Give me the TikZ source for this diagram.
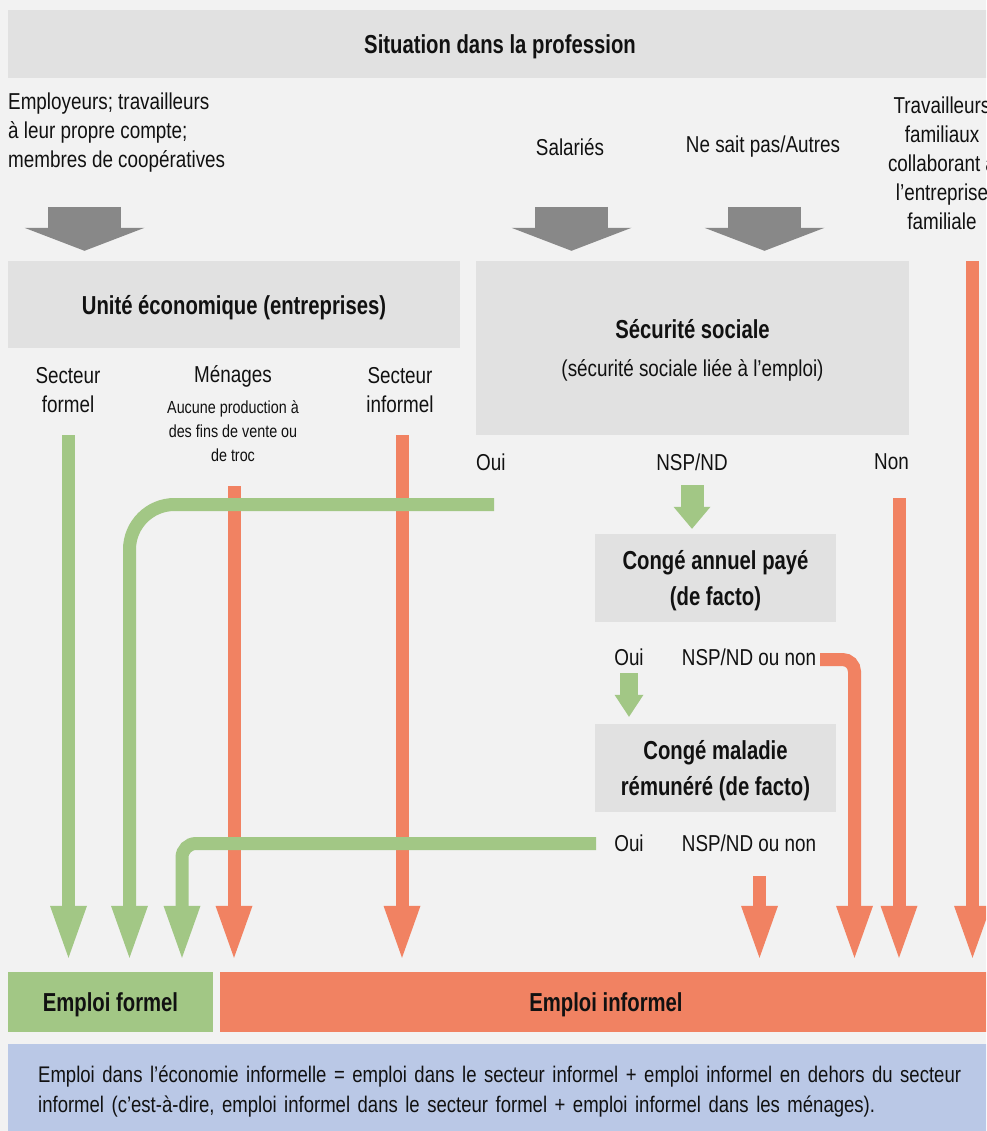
\documentclass[tikz,border=0pt]{standalone}
\usepackage{fontspec}
\setmainfont{Liberation Sans}[FakeStretch=0.82,BoldFeatures={FakeStretch=0.78}]
\usetikzlibrary{arrows.meta}
\definecolor{bg}{HTML}{F2F2F2}
\definecolor{boxgray}{HTML}{E1E1E1}
\definecolor{arrgray}{HTML}{888888}
\definecolor{fgreen}{HTML}{A2C785}
\definecolor{forange}{HTML}{F18262}
\definecolor{fblue}{HTML}{BAC8E6}
\definecolor{ink}{HTML}{111111}
\begin{document}
\begin{tikzpicture}[x=1pt,y=-1pt,
  every node/.style={inner sep=0pt, text=ink},
  reg/.style={font=\fontsize{23}{29}\selectfont, align=center},
  small/.style={font=\fontsize{17.5}{24}\selectfont, align=center},
  hd/.style={font=\fontsize{26}{36}\selectfont\bfseries, align=center, text depth=0pt},
  box/.style={fill=boxgray},
  bigarrow/.style={draw=arrgray, line width=73pt, -{Triangle[width=120pt,length=23pt,line width=0pt 0]}, shorten >=10pt},
  garrow/.style={draw=fgreen, line width=13pt, -{Triangle[width=37pt,length=52pt,line width=0pt 0]}, shorten >=14pt},
  oarrow/.style={draw=forange, line width=13pt, -{Triangle[width=37pt,length=52pt,line width=0pt 0]}, shorten >=14pt},
  sgarrowA/.style={draw=fgreen, line width=23pt, -{Triangle[width=37pt,length=22pt,line width=0pt 0]}, shorten >=5pt},
  sgarrowB/.style={draw=fgreen, line width=18pt, -{Triangle[width=29pt,length=22pt,line width=0pt 0]}, shorten >=7pt}
]
\useasboundingbox (0,0) rectangle (986,1131);
\clip (0,0) rectangle (986,1131);
\fill[bg] (0,0) rectangle (986,1131);

% boxes
\node[box, minimum width=984pt, minimum height=68pt, hd] (title) at (500,44) {Situation dans la profession};
\node[box, minimum width=452pt, minimum height=87pt, hd] (ue) at (234,304.5) {Unité économique (entreprises)};
\node[box, minimum width=433pt, minimum height=174pt, align=center, font=\fontsize{23}{38}\selectfont, text depth=0pt] (ss) at (692.5,348)
  {{\fontsize{26}{38}\selectfont\bfseries Sécurité sociale}\\(sécurité sociale liée à l’emploi)};
\node[box, minimum width=241pt, minimum height=88pt, hd] (ca) at (715.5,578) {Congé annuel payé\\(de facto)};
\node[box, minimum width=241pt, minimum height=88pt, hd] (cm) at (715.5,768) {Congé maladie\\rémunéré (de facto)};
\node[fill=fgreen, minimum width=205pt, minimum height=60pt, hd] (ef) at (110.5,1002) {Emploi formel};
\node[fill=forange, minimum width=772pt, minimum height=60pt, hd] (ei) at (606,1002) {Emploi informel};
\node[fill=fblue, anchor=north west, minimum height=94pt, inner xsep=30pt, text width=940pt, align=left,
  font=\fontsize{22.6}{30}\selectfont] (def) at (8,1044)
  {Emploi dans l’économie informelle = emploi dans le secteur informel + emploi informel en dehors du secteur\\
   informel (c’est-à-dire, emploi informel dans le secteur formel + emploi informel dans les ménages).};

% labels
\node[reg, align=left, anchor=west] (emp) at (8,133) {Employeurs; travailleurs\\à leur propre compte;\\membres de coopératives};
\node[reg] (sal) at (570,147) {Salariés};
\node[reg] (nsp) at (763,147) {Ne sait pas/Autres};
\node[reg] (fam) at (942,163) {Travailleurs\\familiaux\\collaborant à\\l’entreprise\\familiale};
\node[reg] (secf) at (68,390) {Secteur\\formel};
\node[reg] (men) at (233,376) {Ménages};
\node[small] (mensub) at (233,431) {Aucune production à\\des fins de vente ou\\de troc};
\node[reg] (seci) at (400,390) {Secteur\\informel};
\node[reg, anchor=west] (oui1) at (476,462) {Oui};
\node[reg] (nspnd) at (692,462) {NSP/ND};
\node[reg, anchor=east] (non) at (909,462) {Non};
\node[reg] (oui2) at (629,657) {Oui};
\node[reg] (nno1) at (749,657) {NSP/ND ou non};
\node[reg] (oui3) at (629,843) {Oui};
\node[reg] (nno2) at (749,843) {NSP/ND ou non};

% gray arrows
\coordinate (s1) at (84.5,207);
\coordinate (s2) at (571.5,207);
\coordinate (s3) at (764.5,207);
\draw[bigarrow] (s1) -- (s1 |- ue.north);
\draw[bigarrow] (s2) -- (s2 |- ss.north);
\draw[bigarrow] (s3) -- (s3 |- ss.north);

% small green arrows
\coordinate (a1) at (692,485);
\coordinate (a2) at (629,673);
\draw[sgarrowA] (a1) -- (a1 |- ca.north);
\draw[sgarrowB] (a2) -- (a2 |- cm.north);

% orange arrows
\coordinate (o1) at (234,486);
\coordinate (o2) at (402,435);
\coordinate (o3) at (759.5,876);
\coordinate (o4) at (820,659.5);
\coordinate (o4c) at (854.5,659.5);
\coordinate (o5) at (899,498);
\coordinate (o6) at (972.5,261);
\draw[oarrow] (o1) -- (o1 |- ei.north);
\draw[oarrow] (o2) -- (o2 |- ei.north);
\draw[oarrow] (o3) -- (o3 |- ei.north);
\draw[oarrow, rounded corners=12pt] (o4) -- (o4c) -- (o4c |- ei.north);
\draw[oarrow] (o5) -- (o5 |- ei.north);
\draw[oarrow] (o6) -- (o6 |- ei.north);

% green arrows
\coordinate (g1) at (68.5,435);
\coordinate (g2) at (494,504.5);
\coordinate (g2c) at (129.5,504.5);
\coordinate (g3) at (596,843.5);
\coordinate (g3c) at (182,843.5);
\draw[garrow] (g1) -- (g1 |- ef.north);
\draw[garrow, rounded corners=45pt] (g2) -- (g2c) -- (g2c |- ef.north);
\draw[garrow, rounded corners=14pt] (g3) -- (g3c) -- (g3c |- ef.north);
\end{tikzpicture}
\end{document}
